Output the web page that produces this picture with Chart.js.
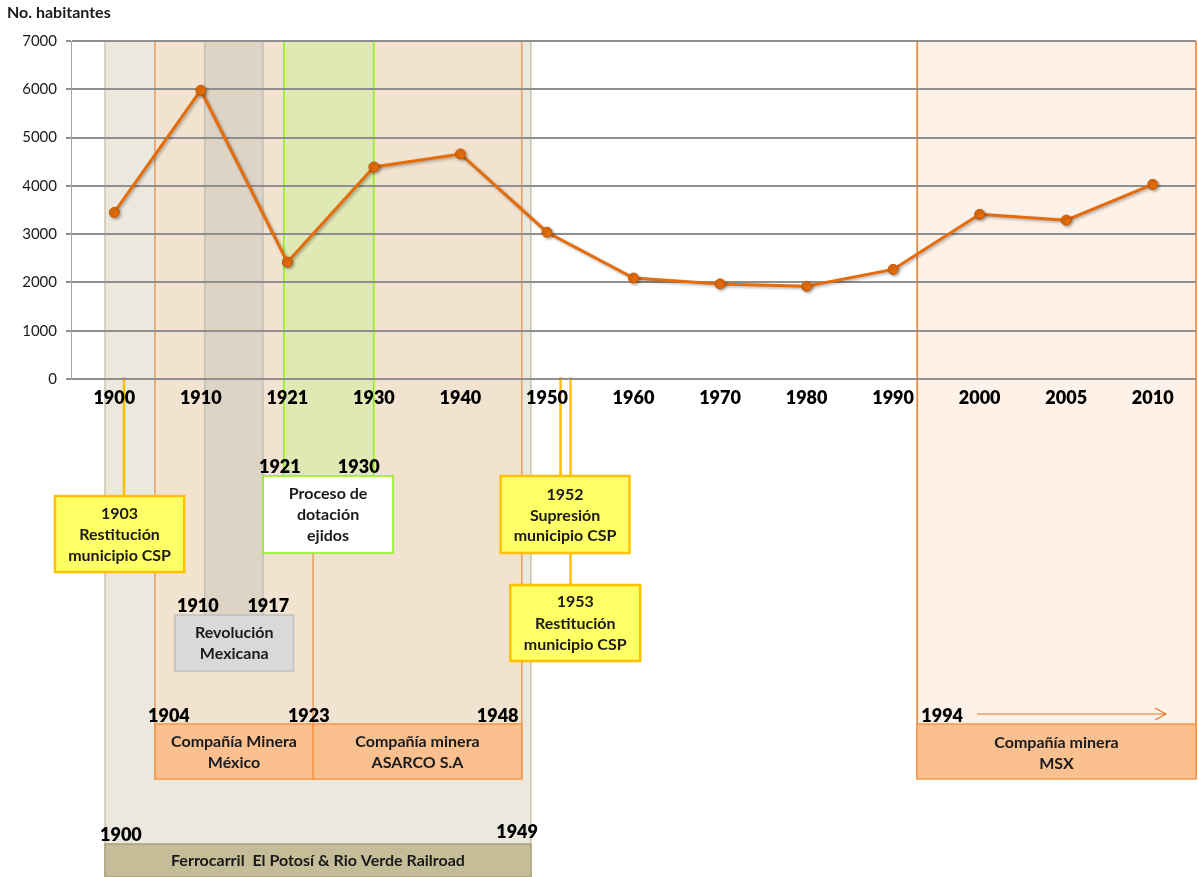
<!DOCTYPE html>
<html lang="es">
<head>
<meta charset="utf-8">
<title>No. habitantes 1900 - 2010</title>
<script src="https://cdn.jsdelivr.net/npm/chart.js@4.4.1/dist/chart.umd.min.js"></script>
<style>
    html, body { margin: 0; padding: 0; background: #ffffff; overflow: hidden; }
    #chartWrap { width: 1198px; height: 877px; }
    #populationChart { display: block; }
</style>
</head>
<body>
<div id="chartWrap"><canvas id="populationChart" width="1198" height="877"></canvas></div>
<script>
// Census years and population
const years = ['1900', '1910', '1921', '1930', '1940', '1950', '1960', '1970', '1980', '1990', '2000', '2005', '2010'];
const population = [3450, 5980, 2420, 4390, 4660, 3040, 2090, 1970, 1920, 2270, 3410, 3290, 4030];
const yTicks = [0, 1000, 2000, 3000, 4000, 5000, 6000, 7000];

// Timeline annotations below the chart. from / to / at are positions on the category axis
const bands = [
    { from: -0.107, to: 4.815, bottom: 877, fill: '#ebe8de', line: '#b5ad8b', lineWidth: 1 },   // ferrocarril
    { from: 0.470, to: 4.710, bottom: 779, fill: '#f2e3d0', line: '#e8782a', lineWidth: 1 },    // minera
    { from: 1.047, to: 1.717, bottom: 615, fill: '#ded4c6', line: '#cac4bc', lineWidth: 2 },    // revolucion
    { from: 1.959, to: 2.998, bottom: 476, fill: '#e0e8b4', line: '#8cf014', lineWidth: 1.5 },  // ejidos
    { from: 9.278, to: null, bottom: 779, fill: '#fdf1e8', line: '#e8782a', lineWidth: 1.5 }     // MSX
];

const boxes = [
    { from: 0.470, to: 2.297, top: 724, bottom: 779, fill: '#fac090', line: '#f79646',
      text: ['Compañía Minera', 'México'], firstLine: 742, step: 20.5 },
    { from: 2.297, to: 4.710, top: 724, bottom: 779, fill: '#fac090', line: '#f79646',
      text: ['Compañía minera', 'ASARCO S.A'], firstLine: 742, step: 20.5 },
    { from: 9.275, to: null, top: 724, bottom: 779, fill: '#fac090', line: '#f79646',
      text: ['Compañía minera', 'MSX'], firstLine: 743, step: 20.5 },
    { from: -0.107, to: 4.815, top: 844, bottom: 877, fill: '#c4bd97', line: '#a8a07c',
      text: ['Ferrocarril  El Potosí & Rio Verde Railroad'], firstLine: 861, step: 20 },
    { from: 0.701, to: 2.071, top: 615, bottom: 671, fill: '#d9d9d9', line: '#bfbfbf',
      text: ['Revolución', 'Mexicana'], firstLine: 633, step: 20.5 },
    { from: 1.720, to: 3.221, top: 476, bottom: 553, fill: '#ffffff', line: '#8cf014',
      text: ['Proceso de', 'dotación', 'ejidos'], firstLine: 494, step: 21 },
    { from: -0.685, to: 0.808, top: 496, bottom: 572, fill: '#ffff66', line: '#ffc000',
      text: ['1903', 'Restitución', 'municipio CSP'], firstLine: 514, step: 21 },
    { from: 4.464, to: 5.954, top: 476, bottom: 553, fill: '#ffff66', line: '#ffc000',
      text: ['1952', 'Supresión', 'municipio CSP'], firstLine: 495, step: 20.5 },
    { from: 4.576, to: 6.077, top: 585, bottom: 661, fill: '#ffff66', line: '#ffc000',
      text: ['1953', 'Restitución', 'municipio CSP'], firstLine: 602, step: 21.5 }
];

// Yellow markers from the axis down to their boxes
const markers = [
    { at: 0.112, bottom: 496 },
    { at: 5.157, bottom: 476 },
    { at: 5.272, bottom: 585 }
];

const yearLabels = [
    { text: '1921', at: 1.913, y: 467 },
    { text: '1930', at: 2.825, y: 467 },
    { text: '1910', at: 0.966, y: 606 },
    { text: '1917', at: 1.780, y: 606 },
    { text: '1904', at: 0.631, y: 716 },
    { text: '1923', at: 2.248, y: 716 },
    { text: '1948', at: 4.430, y: 716 },
    { text: '1994', at: 9.567, y: 716 },
    { text: '1900', at: 0.077, y: 835 },
    { text: '1949', at: 4.655, y: 832 }
];

const timelinePlugin = {
    id: 'timeline',
    beforeDraw(chart) {
        const ctx = chart.ctx;
        const x = chart.scales.x;
        const area = chart.chartArea;
        const px = v => (v === null ? area.right : x.getPixelForValue(v));

        ctx.save();
        ctx.fillStyle = '#ffffff';
        ctx.fillRect(0, 0, chart.width, chart.height);

        // Shaded periods
        bands.forEach(b => {
            const left = px(b.from);
            const right = px(b.to);
            ctx.fillStyle = b.fill;
            ctx.fillRect(left, area.top, right - left, b.bottom - area.top);
            ctx.strokeStyle = b.line;
            ctx.lineWidth = b.lineWidth;
            ctx.beginPath();
            ctx.moveTo(left, area.top);
            ctx.lineTo(left, b.bottom);
            ctx.moveTo(right, area.top);
            ctx.lineTo(right, b.bottom);
            ctx.stroke();
        });

        // Divider between the two mining companies
        ctx.strokeStyle = '#e8782a';
        ctx.lineWidth = 1;
        ctx.beginPath();
        ctx.moveTo(px(2.297), 553);
        ctx.lineTo(px(2.297), 724);
        ctx.stroke();

        // Yellow markers
        ctx.strokeStyle = '#ffc000';
        ctx.lineWidth = 2.5;
        markers.forEach(m => {
            ctx.beginPath();
            ctx.moveTo(px(m.at), area.bottom - 2);
            ctx.lineTo(px(m.at), m.bottom);
            ctx.stroke();
        });

        // Boxes with their text
        ctx.textAlign = 'center';
        ctx.textBaseline = 'middle';
        boxes.forEach(b => {
            const left = px(b.from);
            const right = px(b.to);
            ctx.fillStyle = b.fill;
            ctx.fillRect(left, b.top, right - left, b.bottom - b.top);
            ctx.strokeStyle = b.line;
            ctx.lineWidth = b.fill === '#ffff66' ? 2.5 : 1.5;
            ctx.strokeRect(left, b.top, right - left, b.bottom - b.top);

            ctx.fillStyle = '#1a1a1a';
            ctx.font = 'bold 16px Lato';
            b.text.forEach((line, i) => {
                ctx.fillText(line, (left + right) / 2, b.firstLine + i * b.step);
            });
        });

        // Years above the boxes
        ctx.fillStyle = '#000000';
        ctx.font = '800 18px Lato';
        yearLabels.forEach(l => {
            ctx.fillText(l.text, px(l.at), l.y);
        });

        // Arrow after 1994
        const arrowStart = px(9.971);
        const arrowEnd = px(12.153);
        ctx.strokeStyle = '#e8782a';
        ctx.lineWidth = 1.2;
        ctx.beginPath();
        ctx.moveTo(arrowStart, 714);
        ctx.lineTo(arrowEnd, 714);
        ctx.moveTo(arrowEnd - 11, 708);
        ctx.lineTo(arrowEnd, 714);
        ctx.lineTo(arrowEnd - 11, 720);
        ctx.stroke();

        // Axis title
        ctx.textAlign = 'left';
        ctx.fillStyle = '#1a1a1a';
        ctx.font = 'bold 16px Lato';
        ctx.fillText('No. habitantes', 7, 13);
        ctx.restore();
    }
};

// Soft shadow under the line, like the original
const shadowPlugin = {
    id: 'lineShadow',
    beforeDatasetsDraw(chart) {
        const ctx = chart.ctx;
        ctx.save();
        ctx.shadowColor = 'rgba(0, 0, 0, 0.3)';
        ctx.shadowBlur = 3;
        ctx.shadowOffsetX = 1.5;
        ctx.shadowOffsetY = 1.5;
    },
    afterDatasetsDraw(chart) {
        chart.ctx.restore();
    }
};

document.addEventListener('DOMContentLoaded', function() {
    const canvas = document.getElementById('populationChart');

    new Chart(canvas, {
        type: 'line',
        data: {
            labels: years,
            datasets: [{
                label: 'No. habitantes',
                data: population,
                borderColor: '#e46c0a',
                borderWidth: 3,
                pointRadius: 5,
                pointBackgroundColor: '#e46c0a',
                pointBorderColor: '#c65b06',
                pointBorderWidth: 1,
                tension: 0,
                fill: false
            }]
        },
        options: {
            responsive: false,
            animation: false,
            devicePixelRatio: 1,
            layout: {
                autoPadding: false,
                padding: { top: 41, right: 2, left: 0, bottom: 0 }
            },
            plugins: {
                legend: { display: false },
                tooltip: { enabled: false }
            },
            scales: {
                x: {
                    type: 'category',
                    offset: true,
                    grid: { display: false },
                    border: { display: false },
                    ticks: {
                        color: '#000000',
                        font: { family: 'Lato', size: 18, weight: '800' },
                        padding: 0,
                        maxRotation: 0,
                        autoSkip: false
                    },
                    afterFit: scale => { scale.height = 498; }
                },
                y: {
                    min: 0,
                    max: 7000,
                    afterBuildTicks: scale => { scale.ticks = yTicks.map(v => ({ value: v })); },
                    ticks: {
                        color: '#1a1a1a',
                        font: { family: 'Lato', size: 15 },
                        padding: 9,
                        callback: value => String(value)
                    },
                    grid: { color: '#8f8f8f', lineWidth: 2, tickLength: 5 },
                    border: { display: true, color: '#a6a6a6', width: 1 },
                    afterFit: scale => { scale.width = 71; }
                }
            }
        },
        plugins: [timelinePlugin, shadowPlugin]
    });
});
</script>
</body>
</html>
